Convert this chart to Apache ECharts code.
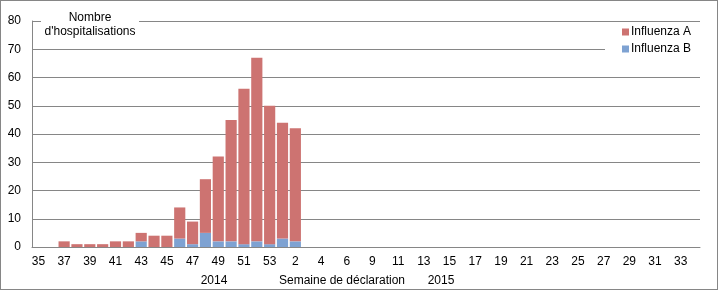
<!DOCTYPE html>
<html><head><meta charset="utf-8">
<script src="https://cdn.jsdelivr.net/npm/echarts@6/dist/echarts.min.js"></script>
<style>html,body{margin:0;padding:0;background:#fff}#c{width:718px;height:290px;box-sizing:border-box;border:1px solid #868686}</style>
</head><body><div id="c"></div>
<script>
const weeks = ['35','36','37','38','39','40','41','42','43','44','45','46','47','48','49','50','51','52','53',
  '1','2','3','4','5','6','7','9','10','11','12','13','14','15','16','17','18','19','20','21','22','23','24','25','26','27','28','29','30','31','32','33','34'];
const influenzaA = [0,0,2,1,1,1,2,2,3,4,4,11,8,19,30,43,55,65,49,41,40,
  0,0,0,0,0,0,0,0,0,0,0,0,0,0,0,0,0,0,0,0,0,0,0,0,0,0,0,0,0,0,0];
const influenzaB = [0,0,0,0,0,0,0,0,2,0,0,3,1,5,2,2,1,2,1,3,2,
  0,0,0,0,0,0,0,0,0,0,0,0,0,0,0,0,0,0,0,0,0,0,0,0,0,0,0,0,0,0,0];
const yTicks = {min:0, max:80, interval:10};

const font = 'Liberation Sans, Arial, sans-serif';
const chart = echarts.init(document.getElementById('c'), null, {renderer:'canvas'});
chart.setOption({
  animation:false,
  textStyle:{fontFamily:font},
  grid:{left:31, right:17, top:20, bottom:42, containLabel:false},
  xAxis:{type:'category', data:weeks,
    axisLine:{lineStyle:{color:'#868686'}}, axisTick:{show:false},
    axisLabel:{interval:1, color:'#000', fontSize:12, fontFamily:font, margin:9}},
  yAxis:{type:'value', min:yTicks.min, max:yTicks.max, interval:yTicks.interval,
    axisLine:{show:true, lineStyle:{color:'#868686'}}, axisTick:{show:false},
    splitLine:{lineStyle:{color:'#868686'}},
    axisLabel:{color:'#000', fontSize:12, fontFamily:font, margin:11}},
  legend:{orient:'vertical', data:['Influenza A','Influenza B'], left:604, top:23,
    itemWidth:7, itemHeight:7, itemGap:5, icon:'rect', backgroundColor:'#fff',
    padding:[2,14,2,17],
    textStyle:{color:'#000', fontSize:12, fontFamily:font, padding:[0,0,0,-3]}},
  graphic:[
    {type:'rect', z:99, shape:{x:40, y:8, width:98, height:30}, style:{fill:'#fff'}},
    {type:'text', x:89, y:10, z:100, style:{text:"Nombre\nd'hospitalisations", fill:'#000', font:'12px '+font,
      align:'center', verticalAlign:'top', lineHeight:14}},
    {type:'text', x:213, y:280, style:{text:'2014', fill:'#000', font:'12px '+font, align:'center', verticalAlign:'middle'}},
    {type:'text', x:341, y:280, style:{text:'Semaine de déclaration', fill:'#000', font:'12px '+font, align:'center', verticalAlign:'middle'}},
    {type:'text', x:440, y:280, style:{text:'2015', fill:'#000', font:'12px '+font, align:'center', verticalAlign:'middle'}}
  ],
  series:[
    {name:'Influenza B', type:'bar', stack:'t', data:influenzaB, barCategoryGap:'13%', itemStyle:{color:'#7EA2D2'}},
    {name:'Influenza A', type:'bar', stack:'t', data:influenzaA, barCategoryGap:'13%', itemStyle:{color:'#CD7371'}}
  ]
});
</script></body></html>
